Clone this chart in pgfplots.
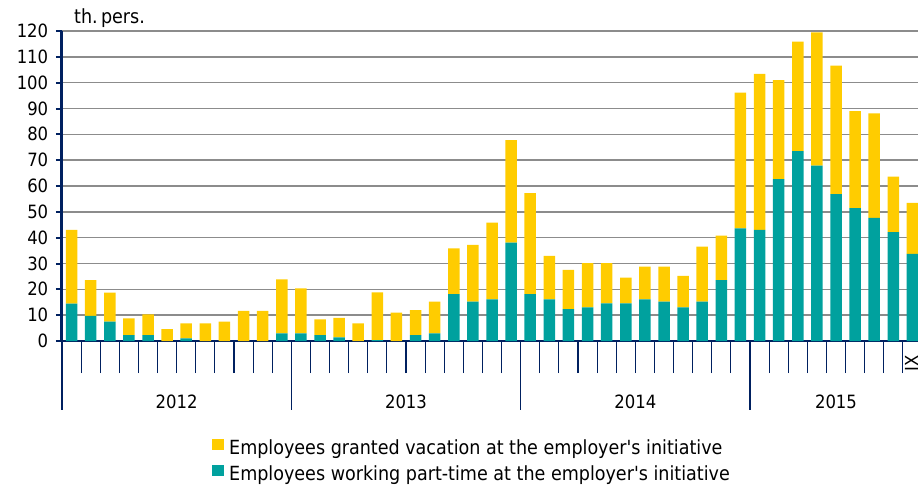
\documentclass[border=0pt]{standalone}
\usepackage{fontspec}
\setmainfont{DejaVu Sans Condensed}
\usepackage{pgfplots}
\usepackage{pgfplotstable}
\pgfplotsset{compat=1.18}
\usetikzlibrary{calc}
\definecolor{cyel}{RGB}{255,204,0}
\definecolor{cteal}{RGB}{0,161,158}
\definecolor{navy}{RGB}{0,32,96}
\definecolor{gridg}{RGB}{140,140,140}
\newcommand{\tf}{\fontsize{18.3}{22}\selectfont}
\newcommand{\lf}{\fontsize{19.5}{23.4}\selectfont}

\pgfplotstableread{
i teal vac
1 14.5 28.5
2 9.7 13.9
3 7.5 11.2
4 2.3 6.5
5 2.3 8.0
6 0 4.6
7 1.0 5.8
8 0 6.8
9 0 7.5
10 0 11.7
11 0 11.7
12 3.0 20.9
13 3.0 17.4
14 2.3 6.1
15 1.4 7.6
16 0 6.8
17 0.3 18.5
18 0 11.0
19 2.3 9.7
20 3.0 12.2
21 18.1 17.8
22 15.2 22.0
23 16.1 29.7
24 38.1 39.7
25 18.1 39.1
26 16.1 16.9
27 12.3 15.2
28 13.0 17.1
29 14.6 15.5
30 14.6 9.9
31 16.1 12.7
32 15.2 13.6
33 13.0 12.2
34 15.2 21.3
35 23.6 17.2
36 43.6 52.5
37 43.0 60.4
38 62.7 38.3
39 73.5 42.4
40 67.9 51.6
41 56.9 49.7
42 51.4 37.6
43 47.7 40.4
44 42.1 21.5
45 33.7 19.8
}\data

\begin{document}
\begin{tikzpicture}[x=1pt,y=1pt]
\useasboundingbox (0,0) rectangle (918,488);
\clip (0,0) rectangle (918,488);
\begin{axis}[
  at={(62pt,147pt)}, anchor=south west, scale only axis,
  width=860pt, height=310pt,
  xmin=0.5, xmax=45.5, ymin=0, ymax=120,
  clip=false,
  ybar stacked, bar width=11.5pt,
  axis x line=bottom, axis y line=left,
  axis line style={-},
  x axis line style={navy, line width=1.6pt},
  y axis line style={navy, line width=3pt},
  ytick={0,10,...,120},
  ymajorgrids, grid style={gridg, line width=1.5pt},
  xtick={0.5,1.5,...,44.5}, xticklabels={},
  tick align=outside,
  xtick style={navy, line width=1.2pt, /pgfplots/major tick length=32pt},
  ytick style={navy, line width=2pt, /pgfplots/major tick length=6pt},
  ticklabel style={font=\tf},
  /pgf/number format/assume math mode=true,
  yticklabel style={xshift=-6pt},
  reverse legend,
  legend style={at={(0.1744,-0.3168)}, anchor=north west, draw=none, fill=none,
    font=\lf, row sep=8.2pt, inner sep=0pt, nodes={inner sep=0pt},
    /tikz/column sep=5pt},
  legend cell align=left,
  legend image code/.code={\fill[#1] (0pt,-2.1pt) rectangle (12pt,8.9pt);},
]
\addplot[fill=cteal, draw=none] table[x=i,y=teal]{\data};
\addlegendentry{Employees working part-time at the employer\textquotesingle s initiative}
\addplot[fill=cyel, draw=none] table[x=i,y=vac]{\data};
\addlegendentry{Employees granted vacation at the employer\textquotesingle s initiative}

\pgfplotsinvokeforeach{0.5,12.5,24.5,36.5}{
  \draw[navy, line width=1.2pt] (axis cs:#1,0) -- ++(0pt,-69pt);
}
\node[anchor=base, font=\tf] at ($(axis cs:6.5,0)+(0pt,-67.3pt)$) {2012};
\node[anchor=base, font=\tf] at ($(axis cs:18.5,0)+(0pt,-67.3pt)$) {2013};
\node[anchor=base, font=\tf] at ($(axis cs:30.5,0)+(0pt,-67.3pt)$) {2014};
\node[anchor=base, font=\tf] at ($(axis cs:41,0)+(0pt,-67.3pt)$) {2015};
\node[anchor=base west, font=\lf, inner sep=0pt] at ($(rel axis cs:0,1)+(12pt,7pt)$) {th.\,pers.};
\node[rotate=90, anchor=north west, inner sep=0pt, font=\tf] at ($(axis cs:44.5,0)+(2pt,-31pt)$) {IX};
\end{axis}
\end{tikzpicture}
\end{document}
